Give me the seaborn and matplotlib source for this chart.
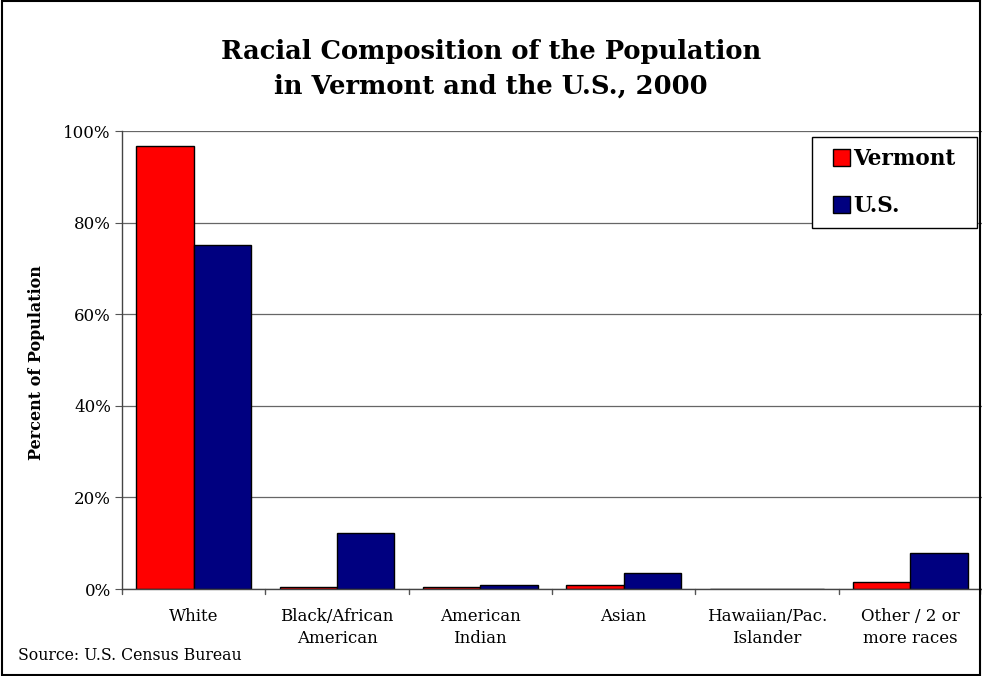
import pandas as pd
import matplotlib.pyplot as plt
import seaborn as sns
from matplotlib.patches import Rectangle

categories = ['White', 'Black/African\nAmerican', 'American\nIndian', 'Asian',
              'Hawaiian/Pac.\nIslander', 'Other / 2 or\nmore races']
vermont = [96.8, 0.5, 0.4, 0.9, 0.0, 1.6]
us = [75.1, 12.3, 0.9, 3.6, 0.1, 7.9]
series = ['Vermont', 'U.S.']
colors = ['#FF0000', '#000080']

df = pd.DataFrame({
    'Race': categories * 2,
    'Percent': vermont + us,
    'Area': ['Vermont'] * len(categories) + ['U.S.'] * len(categories),
})

sns.set_style('white')
plt.rcParams['font.family'] = ['DejaVu Serif']
plt.rcParams['text.color'] = 'black'
plt.rcParams['axes.labelcolor'] = 'black'
plt.rcParams['xtick.color'] = 'black'
plt.rcParams['ytick.color'] = 'black'

W, H = 982, 676
fig = plt.figure(figsize=(W / 100, H / 100), dpi=100)
ax = fig.add_axes([122 / W, 1 - 589 / H, 860 / W, 458 / H])

sns.barplot(data=df, x='Race', y='Percent', hue='Area', hue_order=series,
            palette=colors, width=0.8, edgecolor='black', linewidth=1,
            saturation=1, ax=ax, legend=False)

ax.set_ylim(0, 100)
ax.set_xlim(-0.5, len(categories) - 0.5)
ax.set_yticks(range(0, 101, 20))
ax.set_yticklabels([f'{v}%' for v in range(0, 101, 20)], fontsize=12)
ax.yaxis.grid(True, color='#666666', linewidth=0.9)
ax.set_axisbelow(True)
ax.set_xticks(range(len(categories)))
ax.set_xticklabels(categories, fontsize=12, linespacing=1.35)
ax.tick_params(axis='x', length=0, pad=14)
ax.tick_params(axis='y', length=5, direction='out', left=True, color='#555555', pad=3)
for b in [i - 0.5 for i in range(len(categories) + 1)]:
    ax.plot([b, b], [0, -1.2], color='#555555', linewidth=1, clip_on=False)

for s in ['top', 'right']:
    ax.spines[s].set_visible(False)
for s in ['left', 'bottom']:
    ax.spines[s].set_color('#444444')
    ax.spines[s].set_linewidth(1)

ax.set_xlabel('')
ax.set_ylabel('')
fig.text(37 / W, 1 - 363 / H, 'Percent of Population', rotation=90, fontsize=11.5,
         fontweight='bold', ha='center', va='center')

# legend: frame drawn separately so padding can differ per side
handles = [Rectangle((0, 0), 1, 1, facecolor=c, edgecolor='black') for c in colors]
leg = fig.legend(handles, series, loc='center',
                 bbox_to_anchor=((812 + 977) / 2 / W, 1 - (137 + 228) / 2 / H),
                 prop={'weight': 'bold', 'size': 15.5}, frameon=False,
                 handlelength=0.8, handleheight=0.8, handletextpad=0.15,
                 labelspacing=1.15, borderpad=0)
fig.patches.append(Rectangle((812 / W, 1 - 228 / H), 165 / W, 91 / H,
                             transform=fig.transFigure, facecolor='white',
                             edgecolor='black', linewidth=1, zorder=2))
leg.set_zorder(3)

fig.text(0.5, 1 - 69 / H, 'Racial Composition of the Population\nin Vermont and the U.S., 2000',
         ha='center', va='center', fontsize=18.5, fontweight='bold', linespacing=1.45)
fig.text(18 / W, 1 - 655 / H, 'Source: U.S. Census Bureau', fontsize=11.3, va='center')

fig.patches.append(Rectangle((0.002, 0.002), 0.996, 0.996, transform=fig.transFigure,
                             fill=False, edgecolor='black', linewidth=1.5))

fig.savefig('out.png', dpi=100)
